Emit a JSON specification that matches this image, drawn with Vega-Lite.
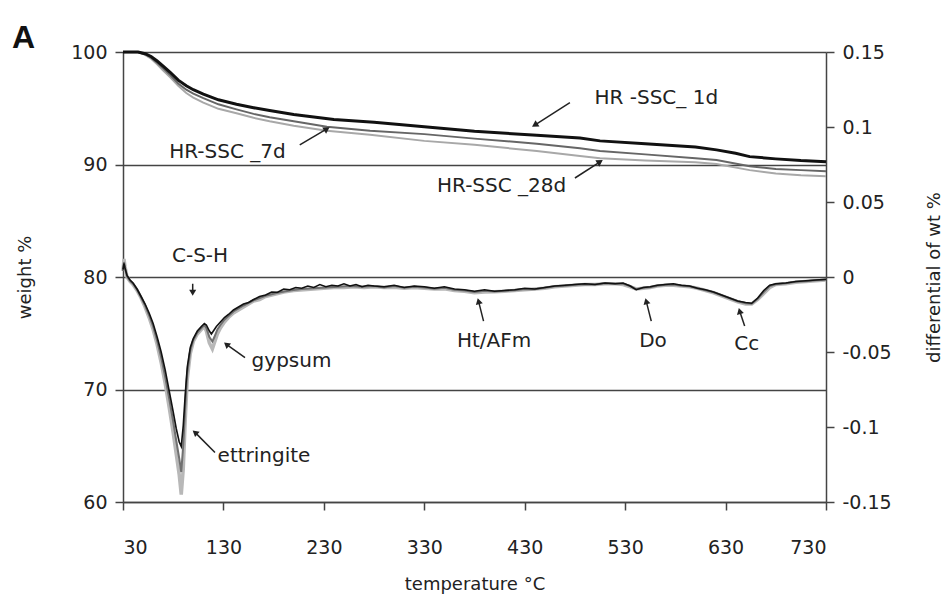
{
  "$schema": "https://vega.github.io/schema/vega-lite/v6.json",
  "width": 703,
  "height": 450,
  "autosize": {"type": "none"},
  "padding": {"left": 123, "top": 52, "right": 125, "bottom": 96},
  "config": {
    "font": "DejaVu Sans",
    "view": {"stroke": null},
    "axis": {"labelFont": "DejaVu Sans", "titleFont": "DejaVu Sans", "labelFontSize": 19, "titleFontSize": 18, "titleFontWeight": "normal", "labelColor": "#222", "titleColor": "#222", "domainColor": "#444", "tickColor": "#444", "domainWidth": 1.5, "tickWidth": 1.5},
    "text": {"font": "DejaVu Sans"}
  },
  "title": {"text": "A", "anchor": "start", "frame": "group", "font": "Liberation Sans", "fontSize": 32, "fontWeight": "bold", "color": "#111", "dx": -111, "offset": -12},
  "datasets": {
    "tga": [
      {"s":"28d","T":30,"w":100},{"s":"28d","T":45,"w":100},{"s":"28d","T":52,"w":99.75},{"s":"28d","T":58,"w":99.4},{"s":"28d","T":64,"w":98.9},{"s":"28d","T":70,"w":98.35},{"s":"28d","T":77,"w":97.75},{"s":"28d","T":85,"w":97.0},{"s":"28d","T":93,"w":96.35},{"s":"28d","T":100,"w":95.95},{"s":"28d","T":110,"w":95.5},{"s":"28d","T":125,"w":94.95},{"s":"28d","T":143,"w":94.55},{"s":"28d","T":160,"w":94.15},{"s":"28d","T":176,"w":93.85},{"s":"28d","T":200,"w":93.45},{"s":"28d","T":233,"w":93.0},{"s":"28d","T":276,"w":92.65},{"s":"28d","T":330,"w":92.1},{"s":"28d","T":380,"w":91.75},{"s":"28d","T":442,"w":91.2},{"s":"28d","T":485,"w":90.75},{"s":"28d","T":505,"w":90.55},{"s":"28d","T":550,"w":90.35},{"s":"28d","T":600,"w":90.2},{"s":"28d","T":621,"w":90.05},{"s":"28d","T":654,"w":89.5},{"s":"28d","T":680,"w":89.2},{"s":"28d","T":705,"w":89.05},{"s":"28d","T":730,"w":88.95},
      {"s":"7d","T":30,"w":100},{"s":"7d","T":45,"w":100},{"s":"7d","T":52,"w":99.8},{"s":"7d","T":58,"w":99.5},{"s":"7d","T":64,"w":99.05},{"s":"7d","T":70,"w":98.55},{"s":"7d","T":77,"w":97.95},{"s":"7d","T":85,"w":97.2},{"s":"7d","T":93,"w":96.65},{"s":"7d","T":100,"w":96.3},{"s":"7d","T":110,"w":95.9},{"s":"7d","T":125,"w":95.35},{"s":"7d","T":143,"w":94.9},{"s":"7d","T":160,"w":94.5},{"s":"7d","T":176,"w":94.2},{"s":"7d","T":200,"w":93.85},{"s":"7d","T":233,"w":93.35},{"s":"7d","T":276,"w":93.0},{"s":"7d","T":330,"w":92.7},{"s":"7d","T":380,"w":92.3},{"s":"7d","T":442,"w":91.85},{"s":"7d","T":485,"w":91.45},{"s":"7d","T":505,"w":91.2},{"s":"7d","T":550,"w":90.9},{"s":"7d","T":600,"w":90.55},{"s":"7d","T":621,"w":90.4},{"s":"7d","T":654,"w":89.85},{"s":"7d","T":680,"w":89.6},{"s":"7d","T":705,"w":89.5},{"s":"7d","T":730,"w":89.4},
      {"s":"1d","T":30,"w":100},{"s":"1d","T":45,"w":100},{"s":"1d","T":52,"w":99.85},{"s":"1d","T":58,"w":99.6},{"s":"1d","T":64,"w":99.2},{"s":"1d","T":70,"w":98.75},{"s":"1d","T":77,"w":98.2},{"s":"1d","T":85,"w":97.5},{"s":"1d","T":93,"w":97.0},{"s":"1d","T":100,"w":96.65},{"s":"1d","T":110,"w":96.25},{"s":"1d","T":125,"w":95.75},{"s":"1d","T":143,"w":95.35},{"s":"1d","T":160,"w":95.05},{"s":"1d","T":176,"w":94.8},{"s":"1d","T":200,"w":94.45},{"s":"1d","T":240,"w":94.0},{"s":"1d","T":280,"w":93.75},{"s":"1d","T":330,"w":93.35},{"s":"1d","T":380,"w":92.95},{"s":"1d","T":442,"w":92.6},{"s":"1d","T":485,"w":92.35},{"s":"1d","T":505,"w":92.1},{"s":"1d","T":550,"w":91.85},{"s":"1d","T":600,"w":91.55},{"s":"1d","T":621,"w":91.3},{"s":"1d","T":640,"w":91.0},{"s":"1d","T":654,"w":90.7},{"s":"1d","T":680,"w":90.5},{"s":"1d","T":705,"w":90.35},{"s":"1d","T":730,"w":90.25}
    ],
    "dtg": [
      {"s":"28d","T":30,"d":0.004},{"s":"28d","T":31,"d":0.012},{"s":"28d","T":32,"d":0.007},{"s":"28d","T":34,"d":0.0},{"s":"28d","T":37,"d":-0.003},{"s":"28d","T":40,"d":-0.005},{"s":"28d","T":44,"d":-0.009},{"s":"28d","T":48,"d":-0.014},{"s":"28d","T":52,"d":-0.02},{"s":"28d","T":56,"d":-0.027},{"s":"28d","T":60,"d":-0.035},{"s":"28d","T":64,"d":-0.045},{"s":"28d","T":68,"d":-0.057},{"s":"28d","T":72,"d":-0.071},{"s":"28d","T":76,"d":-0.087},{"s":"28d","T":80,"d":-0.104},{"s":"28d","T":83,"d":-0.118},{"s":"28d","T":86,"d":-0.132},{"s":"28d","T":88,"d":-0.145},{"s":"28d","T":90,"d":-0.128},{"s":"28d","T":92,"d":-0.095},{"s":"28d","T":94,"d":-0.068},{"s":"28d","T":97,"d":-0.051},{"s":"28d","T":100,"d":-0.043},{"s":"28d","T":104,"d":-0.038},{"s":"28d","T":108,"d":-0.035},{"s":"28d","T":111,"d":-0.033},{"s":"28d","T":113,"d":-0.036},{"s":"28d","T":116,"d":-0.044},{"s":"28d","T":119,"d":-0.048},{"s":"28d","T":121,"d":-0.044},{"s":"28d","T":124,"d":-0.038},{"s":"28d","T":127,"d":-0.034},{"s":"28d","T":131,"d":-0.03},{"s":"28d","T":135,"d":-0.027},{"s":"28d","T":140,"d":-0.024},{"s":"28d","T":145,"d":-0.022},{"s":"28d","T":150,"d":-0.02},{"s":"28d","T":155,"d":-0.018},{"s":"28d","T":160,"d":-0.016},{"s":"28d","T":166,"d":-0.015},{"s":"28d","T":172,"d":-0.013},{"s":"28d","T":178,"d":-0.012},{"s":"28d","T":184,"d":-0.011},{"s":"28d","T":190,"d":-0.01},{"s":"28d","T":200,"d":-0.009},{"s":"28d","T":210,"d":-0.0085},{"s":"28d","T":220,"d":-0.008},{"s":"28d","T":230,"d":-0.0075},{"s":"28d","T":240,"d":-0.007},{"s":"28d","T":250,"d":-0.007},{"s":"28d","T":260,"d":-0.0065},{"s":"28d","T":270,"d":-0.007},{"s":"28d","T":280,"d":-0.0065},{"s":"28d","T":290,"d":-0.007},{"s":"28d","T":300,"d":-0.0068},{"s":"28d","T":310,"d":-0.0075},{"s":"28d","T":320,"d":-0.007},{"s":"28d","T":330,"d":-0.0075},{"s":"28d","T":340,"d":-0.008},{"s":"28d","T":350,"d":-0.0078},{"s":"28d","T":360,"d":-0.009},{"s":"28d","T":370,"d":-0.0095},{"s":"28d","T":380,"d":-0.0105},{"s":"28d","T":390,"d":-0.01},{"s":"28d","T":400,"d":-0.0098},{"s":"28d","T":410,"d":-0.0095},{"s":"28d","T":420,"d":-0.009},{"s":"28d","T":430,"d":-0.0085},{"s":"28d","T":440,"d":-0.008},{"s":"28d","T":450,"d":-0.0075},{"s":"28d","T":460,"d":-0.0065},{"s":"28d","T":470,"d":-0.006},{"s":"28d","T":480,"d":-0.0055},{"s":"28d","T":490,"d":-0.005},{"s":"28d","T":500,"d":-0.005},{"s":"28d","T":510,"d":-0.0045},{"s":"28d","T":520,"d":-0.0045},{"s":"28d","T":528,"d":-0.005},{"s":"28d","T":535,"d":-0.0065},{"s":"28d","T":541,"d":-0.008},{"s":"28d","T":548,"d":-0.0075},{"s":"28d","T":555,"d":-0.007},{"s":"28d","T":562,"d":-0.006},{"s":"28d","T":570,"d":-0.0055},{"s":"28d","T":578,"d":-0.0055},{"s":"28d","T":586,"d":-0.006},{"s":"28d","T":594,"d":-0.0065},{"s":"28d","T":602,"d":-0.0075},{"s":"28d","T":610,"d":-0.009},{"s":"28d","T":618,"d":-0.0105},{"s":"28d","T":626,"d":-0.0125},{"s":"28d","T":634,"d":-0.0145},{"s":"28d","T":642,"d":-0.0165},{"s":"28d","T":650,"d":-0.018},{"s":"28d","T":656,"d":-0.018},{"s":"28d","T":662,"d":-0.015},{"s":"28d","T":668,"d":-0.011},{"s":"28d","T":674,"d":-0.007},{"s":"28d","T":680,"d":-0.005},{"s":"28d","T":690,"d":-0.0045},{"s":"28d","T":700,"d":-0.0035},{"s":"28d","T":710,"d":-0.003},{"s":"28d","T":720,"d":-0.0025},{"s":"28d","T":730,"d":-0.002},
      {"s":"7d","T":30,"d":0.004},{"s":"7d","T":31,"d":0.01},{"s":"7d","T":32,"d":0.006},{"s":"7d","T":34,"d":0.0005},{"s":"7d","T":37,"d":-0.0025},{"s":"7d","T":40,"d":-0.0045},{"s":"7d","T":44,"d":-0.0085},{"s":"7d","T":48,"d":-0.0135},{"s":"7d","T":52,"d":-0.019},{"s":"7d","T":56,"d":-0.0255},{"s":"7d","T":60,"d":-0.033},{"s":"7d","T":64,"d":-0.0425},{"s":"7d","T":68,"d":-0.0535},{"s":"7d","T":72,"d":-0.0665},{"s":"7d","T":76,"d":-0.081},{"s":"7d","T":80,"d":-0.0965},{"s":"7d","T":83,"d":-0.109},{"s":"7d","T":86,"d":-0.121},{"s":"7d","T":88,"d":-0.13},{"s":"7d","T":90,"d":-0.112},{"s":"7d","T":92,"d":-0.086},{"s":"7d","T":94,"d":-0.064},{"s":"7d","T":97,"d":-0.049},{"s":"7d","T":100,"d":-0.042},{"s":"7d","T":104,"d":-0.037},{"s":"7d","T":108,"d":-0.034},{"s":"7d","T":111,"d":-0.032},{"s":"7d","T":113,"d":-0.034},{"s":"7d","T":116,"d":-0.04},{"s":"7d","T":119,"d":-0.043},{"s":"7d","T":121,"d":-0.04},{"s":"7d","T":124,"d":-0.035},{"s":"7d","T":127,"d":-0.032},{"s":"7d","T":131,"d":-0.0285},{"s":"7d","T":135,"d":-0.026},{"s":"7d","T":140,"d":-0.023},{"s":"7d","T":145,"d":-0.021},{"s":"7d","T":150,"d":-0.019},{"s":"7d","T":160,"d":-0.0155},{"s":"7d","T":172,"d":-0.0125},{"s":"7d","T":184,"d":-0.0105},{"s":"7d","T":196,"d":-0.009},{"s":"7d","T":208,"d":-0.008},{"s":"7d","T":220,"d":-0.0075},{"s":"7d","T":232,"d":-0.007},{"s":"7d","T":244,"d":-0.0065},{"s":"7d","T":256,"d":-0.006},{"s":"7d","T":268,"d":-0.0065},{"s":"7d","T":280,"d":-0.006},{"s":"7d","T":290,"d":-0.007},{"s":"7d","T":300,"d":-0.006},{"s":"7d","T":310,"d":-0.0072},{"s":"7d","T":320,"d":-0.0065},{"s":"7d","T":330,"d":-0.007},{"s":"7d","T":340,"d":-0.0078},{"s":"7d","T":350,"d":-0.0072},{"s":"7d","T":360,"d":-0.0085},{"s":"7d","T":370,"d":-0.009},{"s":"7d","T":380,"d":-0.01},{"s":"7d","T":390,"d":-0.0092},{"s":"7d","T":400,"d":-0.0096},{"s":"7d","T":410,"d":-0.0092},{"s":"7d","T":420,"d":-0.0088},{"s":"7d","T":430,"d":-0.008},{"s":"7d","T":440,"d":-0.0082},{"s":"7d","T":450,"d":-0.0072},{"s":"7d","T":460,"d":-0.0062},{"s":"7d","T":470,"d":-0.0058},{"s":"7d","T":480,"d":-0.0052},{"s":"7d","T":490,"d":-0.0048},{"s":"7d","T":500,"d":-0.005},{"s":"7d","T":510,"d":-0.0042},{"s":"7d","T":520,"d":-0.0045},{"s":"7d","T":528,"d":-0.0045},{"s":"7d","T":535,"d":-0.006},{"s":"7d","T":541,"d":-0.0082},{"s":"7d","T":548,"d":-0.0072},{"s":"7d","T":555,"d":-0.0068},{"s":"7d","T":562,"d":-0.0058},{"s":"7d","T":570,"d":-0.0052},{"s":"7d","T":578,"d":-0.005},{"s":"7d","T":586,"d":-0.0058},{"s":"7d","T":594,"d":-0.0062},{"s":"7d","T":602,"d":-0.0075},{"s":"7d","T":610,"d":-0.0088},{"s":"7d","T":618,"d":-0.0102},{"s":"7d","T":626,"d":-0.0122},{"s":"7d","T":634,"d":-0.0142},{"s":"7d","T":642,"d":-0.0162},{"s":"7d","T":650,"d":-0.0175},{"s":"7d","T":656,"d":-0.0178},{"s":"7d","T":662,"d":-0.0145},{"s":"7d","T":668,"d":-0.01},{"s":"7d","T":674,"d":-0.006},{"s":"7d","T":680,"d":-0.0048},{"s":"7d","T":690,"d":-0.0042},{"s":"7d","T":700,"d":-0.0032},{"s":"7d","T":710,"d":-0.0028},{"s":"7d","T":720,"d":-0.0022},{"s":"7d","T":730,"d":-0.0018},
      {"s":"1d","T":30,"d":0.005},{"s":"1d","T":31,"d":0.009},{"s":"1d","T":32,"d":0.006},{"s":"1d","T":34,"d":0.001},{"s":"1d","T":37,"d":-0.002},{"s":"1d","T":40,"d":-0.004},{"s":"1d","T":44,"d":-0.008},{"s":"1d","T":48,"d":-0.013},{"s":"1d","T":52,"d":-0.018},{"s":"1d","T":56,"d":-0.024},{"s":"1d","T":60,"d":-0.031},{"s":"1d","T":64,"d":-0.04},{"s":"1d","T":68,"d":-0.05},{"s":"1d","T":72,"d":-0.062},{"s":"1d","T":76,"d":-0.076},{"s":"1d","T":80,"d":-0.09},{"s":"1d","T":83,"d":-0.101},{"s":"1d","T":86,"d":-0.11},{"s":"1d","T":88,"d":-0.113},{"s":"1d","T":90,"d":-0.099},{"s":"1d","T":92,"d":-0.078},{"s":"1d","T":94,"d":-0.06},{"s":"1d","T":97,"d":-0.047},{"s":"1d","T":100,"d":-0.041},{"s":"1d","T":104,"d":-0.036},{"s":"1d","T":108,"d":-0.033},{"s":"1d","T":111,"d":-0.031},{"s":"1d","T":113,"d":-0.032},{"s":"1d","T":116,"d":-0.036},{"s":"1d","T":118,"d":-0.038},{"s":"1d","T":120,"d":-0.036},{"s":"1d","T":123,"d":-0.033},{"s":"1d","T":127,"d":-0.03},{"s":"1d","T":131,"d":-0.027},{"s":"1d","T":135,"d":-0.025},{"s":"1d","T":140,"d":-0.022},{"s":"1d","T":145,"d":-0.02},{"s":"1d","T":150,"d":-0.018},{"s":"1d","T":155,"d":-0.017},{"s":"1d","T":160,"d":-0.015},{"s":"1d","T":166,"d":-0.013},{"s":"1d","T":172,"d":-0.012},{"s":"1d","T":178,"d":-0.01},{"s":"1d","T":184,"d":-0.0102},{"s":"1d","T":190,"d":-0.008},{"s":"1d","T":196,"d":-0.0085},{"s":"1d","T":202,"d":-0.007},{"s":"1d","T":208,"d":-0.0075},{"s":"1d","T":214,"d":-0.006},{"s":"1d","T":220,"d":-0.007},{"s":"1d","T":226,"d":-0.005},{"s":"1d","T":232,"d":-0.0065},{"s":"1d","T":238,"d":-0.0055},{"s":"1d","T":244,"d":-0.006},{"s":"1d","T":250,"d":-0.0045},{"s":"1d","T":256,"d":-0.006},{"s":"1d","T":262,"d":-0.005},{"s":"1d","T":268,"d":-0.0065},{"s":"1d","T":274,"d":-0.0055},{"s":"1d","T":280,"d":-0.006},{"s":"1d","T":290,"d":-0.0065},{"s":"1d","T":300,"d":-0.0055},{"s":"1d","T":310,"d":-0.007},{"s":"1d","T":320,"d":-0.006},{"s":"1d","T":330,"d":-0.0065},{"s":"1d","T":340,"d":-0.0075},{"s":"1d","T":350,"d":-0.0065},{"s":"1d","T":360,"d":-0.008},{"s":"1d","T":370,"d":-0.0085},{"s":"1d","T":380,"d":-0.0095},{"s":"1d","T":390,"d":-0.0085},{"s":"1d","T":400,"d":-0.0095},{"s":"1d","T":410,"d":-0.009},{"s":"1d","T":420,"d":-0.0085},{"s":"1d","T":430,"d":-0.0075},{"s":"1d","T":440,"d":-0.008},{"s":"1d","T":450,"d":-0.007},{"s":"1d","T":460,"d":-0.006},{"s":"1d","T":470,"d":-0.0055},{"s":"1d","T":480,"d":-0.005},{"s":"1d","T":490,"d":-0.0045},{"s":"1d","T":500,"d":-0.005},{"s":"1d","T":510,"d":-0.004},{"s":"1d","T":520,"d":-0.0045},{"s":"1d","T":528,"d":-0.004},{"s":"1d","T":535,"d":-0.006},{"s":"1d","T":541,"d":-0.0085},{"s":"1d","T":548,"d":-0.007},{"s":"1d","T":555,"d":-0.0065},{"s":"1d","T":562,"d":-0.0055},{"s":"1d","T":570,"d":-0.005},{"s":"1d","T":578,"d":-0.0045},{"s":"1d","T":586,"d":-0.0055},{"s":"1d","T":594,"d":-0.006},{"s":"1d","T":602,"d":-0.0075},{"s":"1d","T":610,"d":-0.0085},{"s":"1d","T":618,"d":-0.01},{"s":"1d","T":626,"d":-0.012},{"s":"1d","T":634,"d":-0.014},{"s":"1d","T":642,"d":-0.016},{"s":"1d","T":650,"d":-0.017},{"s":"1d","T":656,"d":-0.0175},{"s":"1d","T":662,"d":-0.014},{"s":"1d","T":668,"d":-0.009},{"s":"1d","T":674,"d":-0.0055},{"s":"1d","T":680,"d":-0.0045},{"s":"1d","T":690,"d":-0.004},{"s":"1d","T":700,"d":-0.003},{"s":"1d","T":710,"d":-0.0025},{"s":"1d","T":720,"d":-0.002},{"s":"1d","T":730,"d":-0.0015}
    ],
    "tgaNotes": [
      {"label":"HR -SSC_ 1d","tx":561,"ty":95.92,"ax0":475,"ay0":95.5,"ax1":440,"ay1":93.5,"dir":"dl"},
      {"label":"HR-SSC  _7d","tx":134,"ty":91.13,"ax0":206,"ay0":91.75,"ax1":233,"ay1":93.17,"dir":"ur"},
      {"label":"HR-SSC _28d","tx":407,"ty":88.1,"ax0":480,"ay0":88.8,"ax1":505,"ay1":90.24,"dir":"ur"}
    ],
    "dtgNotes": [
      {"label":"C-S-H","tx":106.7,"ty":0.0143,"ax0":99.4,"ay0":-0.0045,"ax1":99.4,"ay1":-0.0105,"dir":"d"},
      {"label":"gypsum","tx":197.8,"ty":-0.056,"ax0":151.5,"ay0":-0.0537,"ax1":133,"ay1":-0.0449,"dir":"ul"},
      {"label":"ettringite","tx":170.4,"ty":-0.119,"ax0":121.6,"ay0":-0.117,"ax1":101.7,"ay1":-0.1036,"dir":"ul"},
      {"label":"Ht/AFm","tx":399.5,"ty":-0.0427,"ax0":389,"ay0":-0.0294,"ax1":384,"ay1":-0.0161,"dir":"u"},
      {"label":"Do","tx":557.7,"ty":-0.0427,"ax0":556,"ay0":-0.0294,"ax1":551,"ay1":-0.0161,"dir":"u"},
      {"label":"Cc","tx":651,"ty":-0.0449,"ax0":649,"ay0":-0.0327,"ax1":644,"ay1":-0.0227,"dir":"u"}
    ]
  },
  "encoding": {
    "x": {"field": "T", "type": "quantitative", "scale": {"domain": [30, 730], "nice": false, "zero": false},
      "axis": {"values": [30,130,230,330,430,530,630,730], "title": "temperature °C", "grid": false, "tickSize": 8, "labelPadding": 28, "titlePadding": 18}}
  },
  "layer": [
    {
      "layer": [
        {"data": {"name": "tga"}, "transform": [{"filter": "datum.s == '28d'"}], "mark": {"type": "line", "color": "#a8a8a8", "strokeWidth": 2},
          "encoding": {"y": {"field": "w", "type": "quantitative", "scale": {"domain": [60, 100], "nice": false, "zero": false},
            "axis": {"orient": "left", "values": [60,70,80,90,100], "title": "weight %", "grid": true, "gridColor": "#444", "gridWidth": 1.5, "tickSize": 8, "labelPadding": 8, "titlePadding": 36}}}},
        {"data": {"name": "tga"}, "transform": [{"filter": "datum.s == '7d'"}], "mark": {"type": "line", "color": "#666666", "strokeWidth": 2},
          "encoding": {"y": {"field": "w", "type": "quantitative"}}},
        {"data": {"name": "tga"}, "transform": [{"filter": "datum.s == '1d'"}], "mark": {"type": "line", "color": "#111111", "strokeWidth": 3},
          "encoding": {"y": {"field": "w", "type": "quantitative"}}},
        {"data": {"name": "tgaNotes"}, "mark": {"type": "text", "fontSize": 20, "color": "#222", "baseline": "middle", "align": "center"},
          "encoding": {"x": {"field": "tx", "type": "quantitative"}, "y": {"field": "ty", "type": "quantitative"}, "text": {"field": "label"}}},
        {"data": {"name": "tgaNotes"}, "mark": {"type": "rule", "color": "#222", "strokeWidth": 1.5},
          "encoding": {"x": {"field": "ax0", "type": "quantitative"}, "y": {"field": "ay0", "type": "quantitative"}, "x2": {"field": "ax1"}, "y2": {"field": "ay1"}}},
        {"data": {"name": "tgaNotes"}, "transform": [{"filter": "datum.dir == 'dl'"}], "mark": {"type": "point", "shape": "triangle-up", "filled": true, "color": "#222", "size": 55, "angle": 238, "opacity": 1},
          "encoding": {"x": {"field": "ax1", "type": "quantitative"}, "y": {"field": "ay1", "type": "quantitative"}}},
        {"data": {"name": "tgaNotes"}, "transform": [{"filter": "datum.dir == 'ur'"}], "mark": {"type": "point", "shape": "triangle-up", "filled": true, "color": "#222", "size": 55, "angle": 58, "opacity": 1},
          "encoding": {"x": {"field": "ax1", "type": "quantitative"}, "y": {"field": "ay1", "type": "quantitative"}}}
      ]
    },
    {
      "layer": [
        {"data": {"name": "dtg"}, "transform": [{"filter": "datum.s == '28d'"}], "mark": {"type": "line", "color": "#b8b8b8", "strokeWidth": 3.5},
          "encoding": {"y": {"field": "d", "type": "quantitative", "scale": {"domain": [-0.15, 0.15], "nice": false, "zero": false},
            "axis": {"orient": "right", "values": [-0.15,-0.1,-0.05,0,0.05,0.1,0.15], "labelExpr": "'' + datum.value", "title": "differential of wt %", "titleAngle": 270, "grid": false, "tickSize": 8, "labelPadding": 8, "titlePadding": 52,
              "encode": {"ticks": {"update": {"x": {"value": -8}}}}}}}},
        {"data": {"name": "dtg"}, "transform": [{"filter": "datum.s == '7d'"}], "mark": {"type": "line", "color": "#707070", "strokeWidth": 2},
          "encoding": {"y": {"field": "d", "type": "quantitative"}}},
        {"data": {"name": "dtg"}, "transform": [{"filter": "datum.s == '1d'"}], "mark": {"type": "line", "color": "#111111", "strokeWidth": 1.6},
          "encoding": {"y": {"field": "d", "type": "quantitative"}}},
        {"data": {"name": "dtgNotes"}, "mark": {"type": "text", "fontSize": 20, "color": "#222", "baseline": "middle", "align": "center"},
          "encoding": {"x": {"field": "tx", "type": "quantitative"}, "y": {"field": "ty", "type": "quantitative"}, "text": {"field": "label"}}},
        {"data": {"name": "dtgNotes"}, "mark": {"type": "rule", "color": "#222", "strokeWidth": 1.5},
          "encoding": {"x": {"field": "ax0", "type": "quantitative"}, "y": {"field": "ay0", "type": "quantitative"}, "x2": {"field": "ax1"}, "y2": {"field": "ay1"}}},
        {"data": {"name": "dtgNotes"}, "transform": [{"filter": "datum.dir == 'd'"}], "mark": {"type": "point", "shape": "triangle-up", "filled": true, "color": "#222", "size": 50, "angle": 180, "opacity": 1},
          "encoding": {"x": {"field": "ax1", "type": "quantitative"}, "y": {"field": "ay1", "type": "quantitative"}}},
        {"data": {"name": "dtgNotes"}, "transform": [{"filter": "datum.dir == 'ul'"}], "mark": {"type": "point", "shape": "triangle-up", "filled": true, "color": "#222", "size": 50, "angle": 310, "opacity": 1},
          "encoding": {"x": {"field": "ax1", "type": "quantitative"}, "y": {"field": "ay1", "type": "quantitative"}}},
        {"data": {"name": "dtgNotes"}, "transform": [{"filter": "datum.dir == 'u'"}], "mark": {"type": "point", "shape": "triangle-up", "filled": true, "color": "#222", "size": 50, "angle": 345, "opacity": 1},
          "encoding": {"x": {"field": "ax1", "type": "quantitative"}, "y": {"field": "ay1", "type": "quantitative"}}}
      ]
    }
  ],
  "resolve": {"scale": {"y": "independent"}, "axis": {"y": "independent"}}
}
